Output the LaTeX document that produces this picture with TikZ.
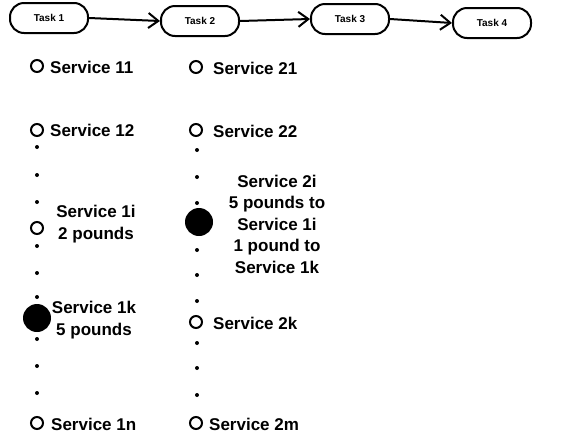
\documentclass[tikz,border=0pt]{standalone}
\usepackage{fontspec}
\setmainfont{Liberation Sans}
\usetikzlibrary{arrows.meta}

\begin{document}
\begin{tikzpicture}[x=1pt,y=-1pt,
  task/.style={draw,line width=2pt,rounded corners=14pt,minimum width=78pt,minimum height=30pt,font=\fontsize{10}{12}\selectfont\bfseries},
  serv/.style={draw,circle,line width=2pt,inner sep=0pt,minimum size=12pt},
  busy/.style={fill,circle,inner sep=0pt,minimum size=28pt},
  lab/.style={font=\fontsize{17}{21.5}\selectfont\bfseries,inner sep=0pt,align=center},
  flow/.style={line width=2pt,-{Straight Barb[length=10pt,width=15pt,line width=2pt]}}]
  \useasboundingbox (0,0) rectangle (570,437);

  % tasks
  \node[task] (t1) at (49,18) {Task 1};
  \node[task] (t2) at (200,21) {Task 2};
  \node[task] (t3) at (350,19) {Task 3};
  \node[task] (t4) at (492,23) {Task 4};
  \draw[flow] (t1.east) -- (t2.west);
  \draw[flow] (t2.east) -- (t3.west);
  \draw[flow] (t3.east) -- (t4.west);

  % services of task 1
  \node[serv] (s11) at (37,66) {};
  \node[lab,anchor=west] (l11) at (50,67) {Service 11};
  \node[serv] (s12) at (37,130) {};
  \node[lab,anchor=west] (l12) at (50,130) {Service 12};
  \path[fill] (37,147) circle (2pt);
  \path[fill] (37,175) circle (2pt);
  \path[fill] (37,202) circle (2pt);
  \node[serv] (s1i) at (37,228) {};
  \node[lab] (l1i) at (96,224) {Service 1i\\2 pounds};
  \path[fill] (37,246) circle (2pt);
  \path[fill] (37,273) circle (2pt);
  \path[fill] (37,297) circle (2pt);
  \node[busy] (s1k) at (37,318) {};
  \node[lab] (l1k) at (94,320) {Service 1k\\5 pounds};
  \path[fill] (37,339) circle (2pt);
  \path[fill] (37,366) circle (2pt);
  \path[fill] (37,393) circle (2pt);
  \node[serv] (s1n) at (37,423) {};
  \node[lab,anchor=west] (l1n) at (51,424) {Service 1n};

  % services of task 2
  \node[serv] (s21) at (196,67) {};
  \node[lab,anchor=west] (l21) at (213,68) {Service 21};
  \node[serv] (s22) at (196,130) {};
  \node[lab,anchor=west] (l22) at (213,131) {Service 22};
  \path[fill] (197,150) circle (2pt);
  \path[fill] (197,177) circle (2pt);
  \path[fill] (197,203) circle (2pt);
  \node[busy] (s2i) at (199,222) {};
  \node[lab] (l2i) at (277,224) {Service 2i\\5 pounds to\\Service 1i\\1 pound to\\Service 1k};
  \path[fill] (197,250) circle (2pt);
  \path[fill] (197,275) circle (2pt);
  \path[fill] (197,301) circle (2pt);
  \node[serv] (s2k) at (196,322) {};
  \node[lab,anchor=west] (l2k) at (213,323) {Service 2k};
  \path[fill] (197,343) circle (2pt);
  \path[fill] (197,368) circle (2pt);
  \path[fill] (197,395) circle (2pt);
  \node[serv] (s2m) at (196,423) {};
  \node[lab,anchor=west] (l2m) at (209,424) {Service 2m};
\end{tikzpicture}
\end{document}
